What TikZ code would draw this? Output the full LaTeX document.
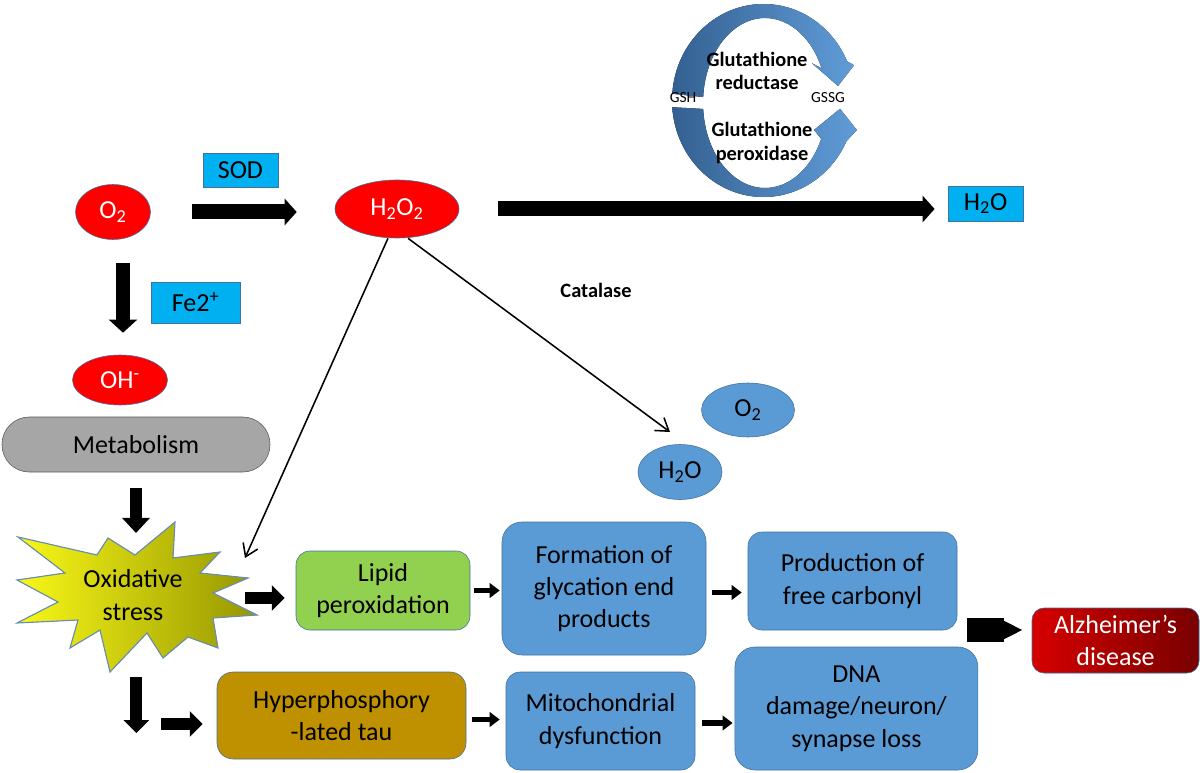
\documentclass[tikz,border=0pt]{standalone}
\usepackage{fontspec}
\setmainfont{Carlito}
\setsansfont{Carlito}
\usetikzlibrary{positioning, arrows.meta, shapes.geometric}

\definecolor{cyanbox}{RGB}{0,176,240}
\definecolor{skyblue}{RGB}{91,155,213}
\definecolor{edgeblue}{RGB}{65,113,156}
\definecolor{lipidgreen}{RGB}{146,208,80}
\definecolor{taubrown}{RGB}{191,144,0}
\definecolor{metabgray}{RGB}{166,166,166}
\definecolor{starL}{RGB}{248,248,24}
\definecolor{starR}{RGB}{150,150,0}
\definecolor{alzL}{RGB}{214,0,0}
\definecolor{alzR}{RGB}{120,0,0}
\definecolor{ringL}{RGB}{52,96,145}
\definecolor{ringR}{RGB}{96,156,216}

\begin{document}
\begin{tikzpicture}[
  font=\sffamily\fontsize{18.5}{23}\selectfont,
  bigarr/.style={line width=0.375cm, -{Triangle[width=0.65cm,length=0.3cm]}},
  midarr/.style={line width=0.3cm, -{Triangle[width=0.62cm,length=0.32cm]}},
  smallarr/.style={line width=0.13cm, -{Triangle[width=0.36cm,length=0.25cm]}},
  thinarr/.style={line width=1.1pt, -{Straight Barb[length=0.3cm,width=0.4cm]}},
  redell/.style={ellipse, draw=edgeblue, fill=red, text=white, inner sep=0pt},
  blueell/.style={ellipse, draw=edgeblue, fill=skyblue, inner sep=0pt},
  enzbox/.style={draw=edgeblue, fill=cyanbox, inner sep=0pt},
  stagebox/.style={draw=edgeblue, fill=skyblue, rounded corners=0.35cm, align=center, inner sep=0pt},
  smalllbl/.style={font=\sffamily\bfseries\fontsize{14.5}{16.5}\selectfont, align=center}
]
\useasboundingbox (0,0) rectangle (30,19.3);

% --- glutathione cycle ---
\fill[left color=ringL, right color=ringR]
  ([shift={(176:2.2875 and 2.4125)}]19.0875,16.7875)
  arc[start angle=176, end angle=24, x radius=2.2875, y radius=2.4125]
  -- (21.35,17.67) -- (20.95,17.15) -- (20.3,17.72)
  -- ([shift={(24:1.55 and 2.125)}]19.125,16.725)
  arc[start angle=24, end angle=176, x radius=1.55, y radius=2.125] -- cycle;
\fill[left color=ringL, right color=ringR]
  ([shift={(184:2.2875 and 2.4125)}]19.0875,16.7875)
  arc[start angle=184, end angle=335, x radius=2.2875, y radius=2.4125]
  -- (21.42,16.05) -- (21.0,16.58) -- (20.35,16.05)
  -- ([shift={(335:1.55 and 2.125)}]19.125,16.725)
  arc[start angle=335, end angle=184, x radius=1.55, y radius=2.125] -- cycle;
\node[smalllbl] (glred) at (18.925,17.525) {Glutathione\\reductase};
\node[smalllbl] (glper) at (19.05,15.725) {Glutathione\\peroxidase};
\node[font=\sffamily\fontsize{11}{12}\selectfont] (gsh) at (17.075,16.85) {GSH};
\node[font=\sffamily\fontsize{11}{12}\selectfont] (gssg) at (20.7,16.85) {GSSG};

% --- top row ---
\node[redell, minimum width=1.875cm, minimum height=1.375cm] (o2) at (2.825,14.0) {O\textsubscript{2}};
\node[enzbox, minimum width=1.875cm, minimum height=0.85cm] (sod) at (6.01,15.05) {SOD};
\node[redell, minimum width=3.1cm, minimum height=1.45cm] (h2o2) at (9.925,14.075) {H\textsubscript{2}O\textsubscript{2}};
\node[enzbox, minimum width=1.875cm, minimum height=0.875cm] (h2oc) at (24.64,14.21) {H\textsubscript{2}O};
\node[smalllbl] (catalase) at (14.9,12.05) {Catalase};

\draw[bigarr, shorten <=1.04cm, shorten >=0.95cm] (o2.east) -- (o2.east -| h2o2.west);
\draw[bigarr, shorten <=0.975cm, shorten >=0.33cm] (h2o2.east) -- (h2o2.east -| h2oc.west);

% --- left column ---
\node[enzbox, minimum width=2.225cm, minimum height=1.025cm] (fe) at (4.89,11.74) {Fe2\textsuperscript{+}};
\node[redell, minimum width=2.375cm, minimum height=1.25cm] (oh) at (3.0,9.8) {OH\textsuperscript{-}};
\node[draw=gray!70!black, fill=metabgray, rounded corners=0.68cm, minimum width=6.7cm,
  minimum height=1.375cm, inner sep=0pt] (metab) at (3.4,8.1875) {Metabolism};

\draw[line width=0.35cm, -{Triangle[width=0.7cm,length=0.33cm]}, shorten <=0.59cm, shorten >=0.55cm]
  ([xshift=0.25cm]o2.south) -- ([xshift=0.25cm]o2.south |- oh.north);

% oxidative stress burst
\filldraw[draw=edgeblue!80, line width=0.8pt, left color=starL, right color=starR]
  (4.375,6.25) -- (4.325,5.35) -- (5.5,5.5) -- (5.0,4.975) -- (6.2,4.85) -- (5.325,4.475)
  -- (6.425,3.925) -- (5.325,3.85) -- (5.45,3.1) -- (4.7,3.375) -- (4.075,2.85) -- (3.675,3.475)
  -- (2.75,2.5) -- (2.5,3.55) -- (1.75,3.1) -- (1.95,3.8) -- (0.425,3.725) -- (1.45,4.25)
  -- (0.425,4.8) -- (1.625,4.975) -- (0.45,5.875) -- (2.425,5.425) -- (2.7,5.85) -- (3.375,5.425) -- cycle;
\node[align=center] (ox) at (3.325,4.425) {Oxidative\\stress};

\coordinate (oxtop) at (3.4,5.975);
\coordinate (oxne) at (6.125,5.35);
\coordinate (oxe) at (6.125,4.35);
\coordinate (oxs) at (3.41,2.375);
\coordinate (oxsd) at (3.41,0.975);
\coordinate (taul) at (4.025,1.2);
\coordinate (cattip) at (16.75,8.5);
\coordinate (adin) at (24.175,3.55);

\draw[line width=0.28cm, -{Triangle[width=0.68cm,length=0.38cm]}, shorten <=0.4cm] (metab.south) -- (oxtop);

% --- catalase branch ---
\node[blueell, minimum width=2.325cm, minimum height=1.35cm] (o2b) at (18.7,9.05) {O\textsubscript{2}};
\node[blueell, minimum width=2.1cm, minimum height=1.375cm] (h2ob) at (17.0,7.5) {H\textsubscript{2}O};

\draw[thinarr] ([xshift=-0.225cm]h2o2.south) -- (oxne);
\draw[thinarr] ([xshift=0.275cm]h2o2.south) -- (cattip);

% --- damage pathway ---
\node[stagebox, fill=lipidgreen, minimum width=4.35cm, minimum height=1.975cm] (lipid) at (9.575,4.5375) {Lipid\\peroxidation};
\node[stagebox, rounded corners=0.5cm, minimum width=5.1cm, minimum height=3.325cm] (form) at (15.1,4.5875) {Formation of\\glycation end\\products};
\node[stagebox, minimum width=5.225cm, minimum height=2.45cm] (prod) at (21.3125,4.775) {Production of\\free carbonyl};
\node[stagebox, draw=edgeblue, left color=alzL, right color=alzR, text=white, rounded corners=0.3cm,
  minimum width=4.175cm, minimum height=1.625cm] (alz) at (27.8875,3.2875) {Alzheimer’s\\disease};

\node[stagebox, fill=taubrown, rounded corners=0.4cm, minimum width=6.225cm, minimum height=2.175cm] (hyper) at (8.5375,1.4125) {Hyperphosphory\\-lated tau};
\node[stagebox, minimum width=4.725cm, minimum height=2.45cm] (mito) at (15.0125,1.275) {Mitochondrial\\dysfunction};
\node[stagebox, rounded corners=0.5cm, minimum width=6.075cm, minimum height=3.075cm] (dna) at (21.41,1.5875) {DNA\\damage/neuron/\\synapse loss};

\draw[midarr, shorten >=0.275cm] (oxe) -- (oxe -| lipid.west);
\draw[smallarr, shorten <=0.1cm, shorten >=0.05cm] (lipid.east) -- (lipid.east -| form.west);
\draw[smallarr, shorten <=0.15cm, shorten >=0.15cm] ([yshift=-0.1cm]form.east) -- ([yshift=-0.1cm]form.east -| prod.west);
\draw[midarr] (oxs) -- (oxsd);
\draw[midarr, shorten >=0.35cm] (taul) -- (taul -| hyper.west);
\draw[smallarr, shorten <=0.15cm, shorten >=0.15cm] ([yshift=-0.1cm]hyper.east) -- ([yshift=-0.1cm]hyper.east -| mito.west);
\draw[smallarr, shorten <=0.175cm, shorten >=0.05cm] ([yshift=-0.05cm]mito.east) -- ([yshift=-0.05cm]mito.east -| dna.west);
\draw[line width=0.6cm, -{Triangle[width=0.45cm,length=0.5cm]}, shorten >=0.225cm] (adin) -- (adin -| alz.west);

\end{tikzpicture}
\end{document}
